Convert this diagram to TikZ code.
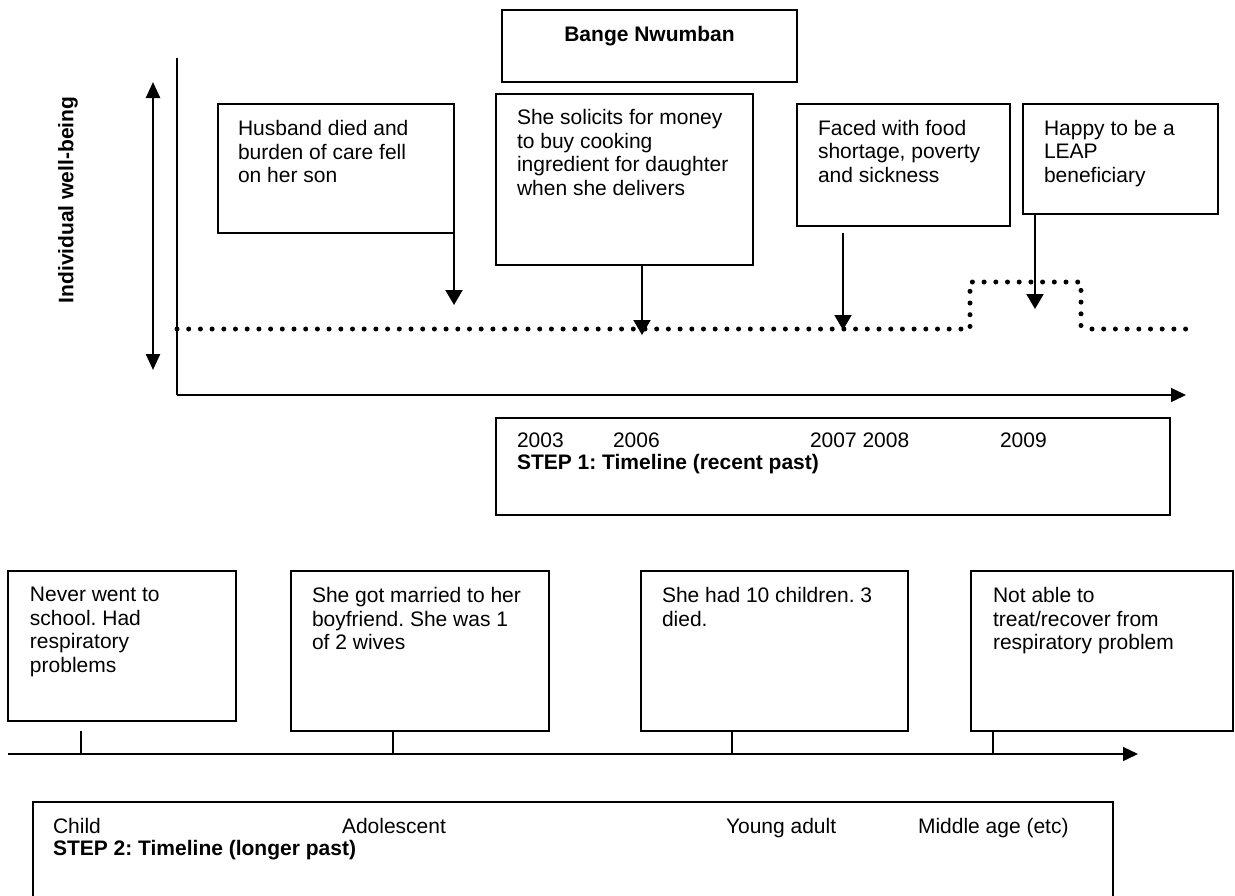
\documentclass[tikz,border=0pt]{standalone}
\usepackage{fontspec}
\setmainfont{Liberation Sans}
\usetikzlibrary{arrows.meta}
\frenchspacing
\begin{document}
\begin{tikzpicture}[x=1pt,y=-1pt,
  every node/.style={inner sep=0pt, outer sep=0pt},
  frame/.style={draw, line width=1.5pt, anchor=north west},
  txt/.style={anchor=north west, align=left, font=\fontsize{21}{23.5}\selectfont},
  lbl/.style={anchor=base west, font=\fontsize{21}{23.5}\selectfont},
  boldlbl/.style={anchor=base west, font=\bfseries\fontsize{21}{23.5}\selectfont},
  axis/.style={line width=1.4pt},
  axisarrow/.style={line width=1.4pt, -{Triangle[length=15pt,width=14pt]}},
  drop/.style={line width=2pt, -{Triangle[length=15pt,width=17pt]}},
  dots/.style={line width=5pt, line cap=round, dash pattern=on 0pt off 11.7pt},
]
\useasboundingbox (0,0) rectangle (1235,895);

% ---------- recent past: well-being chart ----------
\node[frame, minimum width=295pt, minimum height=72pt] (title) at (502,10) {};
\node[anchor=base, font=\bfseries\fontsize{21}{23.5}\selectfont] (titletext) at (649.5,41) {Bange Nwumban};

\coordinate (yTop) at (177,58);
\coordinate (origin) at (177,395);
\coordinate (xEnd) at (1186,395);
\draw[axis] (yTop) -- (origin);
\draw[axisarrow] (origin) -- (xEnd);

\coordinate (wbTop) at (153,82);
\coordinate (wbBot) at (153,370);
\draw[line width=2.5pt, {Triangle[length=16pt,width=14pt]}-{Triangle[length=16pt,width=14pt]}] (wbBot) -- (wbTop);
\node[rotate=90, font=\bfseries\fontsize{21}{23.5}\selectfont] (wblabel) at (68,200) {Individual well-being};

% well-being level
\draw[dots] (177,329) -- (970,329) -- (970,282) -- (1081,282) -- (1081,335);
\draw[dots] (1092,329) -- (1193,329);

% events
\node[frame, minimum width=236pt, minimum height=129pt] (hus) at (218,104) {};
\node[txt] (hustext) at (238,120.4) {Husband died and\\burden of care fell\\on her son};
\coordinate (husTip) at (454,305);
\draw[drop] (hus.south east) -- (husTip);

\node[frame, minimum width=257pt, minimum height=171pt] (sol) at (496,94) {};
\node[txt] (soltext) at (517,109.7) {She solicits for money\\to buy cooking\\ingredient for daughter\\when she delivers};
\coordinate (solTip) at (642,335);
\draw[drop] (sol.south -| solTip) -- (solTip);

\node[frame, minimum width=213pt, minimum height=122pt] (fac) at (797,104) {};
\node[txt] (factext) at (818,120) {Faced with food\\shortage, poverty\\and sickness};
\coordinate (facStart) at (843,233);
\coordinate (facTip) at (843,330);
\draw[drop] (facStart) -- (facTip);

\node[frame, minimum width=195pt, minimum height=110pt] (hap) at (1023,104) {};
\node[txt] (haptext) at (1044,120) {Happy to be a\\LEAP\\beneficiary};
\coordinate (hapTip) at (1035,309);
\draw[drop] (hap.south -| hapTip) -- (hapTip);

% step 1 caption
\node[frame, minimum width=674pt, minimum height=97pt] (step1) at (496,418) {};
\node[lbl] (y2003) at (517,447) {2003};
\node[lbl] (y2006) at (613,447) {2006};
\node[lbl] (y2007) at (810,447) {2007 2008};
\node[lbl] (y2009) at (1000,447) {2009};
\node[boldlbl] (s1text) at (517,469) {STEP 1: Timeline (recent past)};

% ---------- longer past: life-stage timeline ----------
\node[frame, minimum width=228pt, minimum height=150pt] (b1) at (8,571) {};
\node[txt] (b1text) at (30,587.3) {Never went to\\school. Had\\respiratory\\problems};
\node[frame, minimum width=258pt, minimum height=160pt] (b2) at (291,571) {};
\node[txt] (b2text) at (312,587.3) {She got married to her\\boyfriend. She was 1\\of 2 wives};
\node[frame, minimum width=267pt, minimum height=160pt] (b3) at (641,571) {};
\node[txt] (b3text) at (662,587.3) {She had 10 children. 3\\died.};
\node[frame, minimum width=262pt, minimum height=160pt] (b4) at (971,571) {};
\node[txt] (b4text) at (993,587.3) {Not able to\\treat/recover from\\respiratory problem};

\coordinate (lineStart) at (8,754);
\coordinate (lineEnd) at (1138,754);
\draw[axisarrow] (lineStart) -- (lineEnd);
\coordinate (t1) at (81,754);
\coordinate (t1top) at (81,731);
\coordinate (t2) at (393,754);
\coordinate (t3) at (732,754);
\coordinate (t4) at (993,754);
\draw[axis] (t1top) -- (t1);
\draw[axis] (b2.south -| t2) -- (t2);
\draw[axis] (b3.south -| t3) -- (t3);
\draw[axis] (b4.south -| t4) -- (t4);

% step 2 caption
\node[frame, minimum width=1080pt, minimum height=97pt] (step2) at (33,802) {};
\node[lbl] (child) at (53,833) {Child};
\node[lbl] (adol) at (342,833) {Adolescent};
\node[lbl] (young) at (726,833) {Young adult};
\node[lbl] (middle) at (918,833) {Middle age (etc)};
\node[boldlbl] (s2text) at (53,855) {STEP 2: Timeline (longer past)};
\end{tikzpicture}
\end{document}
